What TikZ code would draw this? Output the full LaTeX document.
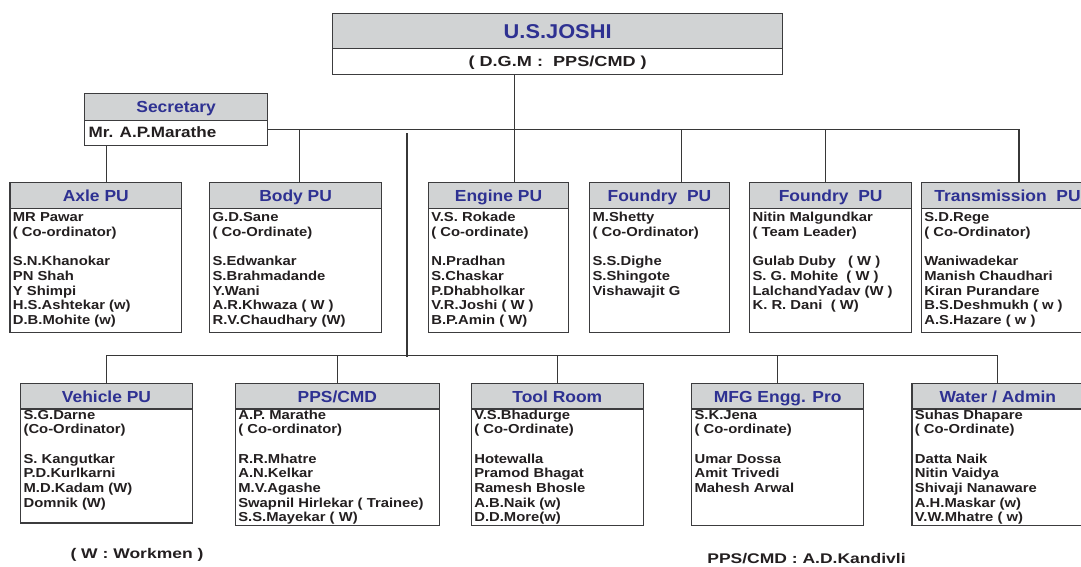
\documentclass[tikz,border=0pt]{standalone}
\usepackage{fontspec}
\setmainfont{Liberation Sans}
\newfontfamily\fA{Liberation Sans}[FakeStretch=1.09]
\newfontfamily\fB{Liberation Sans}[FakeStretch=1.14]
\newfontfamily\fC{Liberation Sans}[FakeStretch=1.25]
\definecolor{hdrgray}{RGB}{209,211,212}
\definecolor{hdrblue}{RGB}{46,49,146}
\definecolor{boxc}{RGB}{60,60,62}
\definecolor{linec}{RGB}{55,55,55}
\definecolor{txt}{RGB}{35,31,32}
\tikzset{
  hdr/.style={draw=boxc, line width=1.3pt, fill=hdrgray, text=hdrblue, inner sep=0pt,
    font=\fA\bfseries\fontsize{16}{19}\selectfont, text height=11.6pt, text depth=0pt},
  bdy/.style={draw=boxc, line width=1.3pt, fill=white, inner sep=0pt, text=txt},
  mem/.style={anchor=base west, inner sep=0pt, text=txt, font=\fB\bfseries\fontsize{13}{15}\selectfont},
  conn/.style={draw=linec, line width=1.2pt},
  note/.style={inner sep=0pt, text=txt, font=\fC\bfseries\fontsize{14}{17}\selectfont, text height=10pt, text depth=0pt}
}
% #1 name, #2 xL, #3 xR, #4 yTop, #5 yDiv, #6 yBot, #7 first baseline offset, #8 header, #9 lines
\newcommand\orgunit[9]{%
  \node[hdr, minimum width={(#3-#2)*1pt}, minimum height={(#5-#4)*1pt}, anchor=north west] (#1H) at (#2,#4) {#8};
  \node[bdy, minimum width={(#3-#2)*1pt}, minimum height={(#6-#5)*1pt}, anchor=north west] (#1B) at (#2,#5) {};
  \foreach \t [count=\i] in {#9} {
    \node[mem] (#1L\i) at ({#2+3.4},{#5+#7+(\i-1+(\i>2))*14.67}) {\t};
  }
}
\begin{document}
\begin{tikzpicture}[x=1pt,y=-1pt]
\useasboundingbox (0,0) rectangle (1081,566);
\begin{scope}
\clip (0,0) rectangle (1081,566);
\fill[white] (0,0) rectangle (1081,566);

% top
\node[hdr, font=\fA\bfseries\fontsize{20}{24}\selectfont, text height=14.3pt,
  minimum width=450pt, minimum height=35pt, anchor=north west] (joshiH) at (332,13) {U.S.JOSHI};
\node[bdy, font=\fC\bfseries\fontsize{14.5}{17}\selectfont, text height=10.4pt, text depth=0pt,
  minimum width=450pt, minimum height=26pt, anchor=north west] (joshiB) at (332,48) {( D.G.M :\ \ PPS/CMD )};

% secretary
\node[hdr, minimum width=183pt, minimum height=27pt, anchor=north west] (secH) at (84,93) {Secretary};
\node[bdy, minimum width=183pt, minimum height=25pt, anchor=north west] (secB) at (84,120) {};
\node[mem, font=\fB\bfseries\fontsize{15}{18}\selectfont] (secName) at (88.5,137.6) {Mr. A.P.Marathe};

% row 1
\orgunit{axle}{9.3}{181}{182}{207.5}{332}{14.2}{Axle PU}{{MR Pawar},{( Co-ordinator)},{S.N.Khanokar},{PN Shah},{Y Shimpi},{H.S.Ashtekar (w)},{D.B.Mohite (w)}}
\orgunit{body}{209}{381}{182}{207.5}{332}{14.2}{Body PU}{{G.D.Sane},{( Co-Ordinate)},{S.Edwankar},{S.Brahmadande},{Y.Wani},{A.R.Khwaza ( W )},{R.V.Chaudhary (W)}}
\orgunit{engine}{427.7}{568}{182}{207.5}{332}{14.2}{Engine PU}{{V.S. Rokade},{( Co-ordinate)},{N.Pradhan},{S.Chaskar},{P.Dhabholkar},{V.R.Joshi ( W )},{B.P.Amin ( W)}}
\orgunit{foundA}{589}{728.7}{182}{207.5}{332}{14.2}{Foundry\ \ PU}{{M.Shetty},{( Co-Ordinator)},{S.S.Dighe},{S.Shingote},{Vishawajit G}}
\orgunit{foundB}{749}{911}{182}{207.5}{332}{14.2}{Foundry\ \ PU}{{Nitin Malgundkar},{( Team Leader)},{Gulab Duby\ \ \ ( W )},{S. G. Mohite\ \ ( W )},{LalchandYadav (W )},{K. R. Dani\ \ ( W)}}
\orgunit{trans}{920.7}{1093}{182}{207.5}{332}{14.2}{Transmission\ \ PU}{{S.D.Rege},{( Co-Ordinator)},{Waniwadekar},{Manish Chaudhari},{Kiran Purandare},{B.S.Deshmukh ( w )},{A.S.Hazare ( w )}}

% row 2
\orgunit{vehicle}{20}{191.7}{383}{408.3}{522.3}{10.8}{Vehicle PU}{{S.G.Darne},{(Co-Ordinator)},{S. Kangutkar},{P.D.Kurlkarni},{M.D.Kadam (W)},{Domnik (W)}}
\orgunit{pps}{234.7}{438.7}{383}{408.3}{525}{10.8}{PPS/CMD}{{A.P. Marathe},{( Co-ordinator)},{R.R.Mhatre},{A.N.Kelkar},{M.V.Agashe},{Swapnil Hirlekar ( Trainee)},{S.S.Mayekar ( W)}}
\orgunit{tool}{470.7}{642.7}{383}{408.3}{525}{10.8}{Tool Room}{{V.S.Bhadurge},{( Co-Ordinate)},{Hotewalla},{Pramod Bhagat},{Ramesh Bhosle},{A.B.Naik (w)},{D.D.More(w)}}
\orgunit{mfg}{691}{863}{383}{408.3}{525}{10.8}{MFG Engg. Pro}{{S.K.Jena},{( Co-ordinate)},{Umar Dossa},{Amit Trivedi},{Mahesh Arwal}}
\orgunit{water}{911.3}{1083}{383}{408.3}{525}{10.8}{Water / Admin}{{Suhas Dhapare},{( Co-Ordinate)},{Datta Naik},{Nitin Vaidya},{Shivaji Nanaware},{A.H.Maskar (w)},{V.W.Mhatre ( w)}}

% notes
\node[note] (workmen) at (137,553) {( W : Workmen )};
\node[note] (kandivli) at (806.5,558.5) {PPS/CMD : A.D.Kandivli};

% connectors
\coordinate (busA) at ([yshift=4pt]secB.east);
\coordinate (transTop) at ([xshift=-0.1pt]1019,182);
\coordinate (engTop) at ([xshift=16.15pt]engineH.north);
\coordinate (axleTop) at ([xshift=10.85pt]axleH.north);
\coordinate (bodyTop) at ([xshift=4pt]bodyH.north);
\coordinate (foundATop) at ([xshift=21.85pt]foundAH.north);
\coordinate (foundBTop) at ([xshift=-5pt]foundBH.north);
\coordinate (vTop) at (407,133);

\draw[conn] (busA) -- (transTop |- busA) -- (transTop);
\draw[conn] (engTop) -- (engTop |- joshiB.south);
\draw[conn] (axleTop) -- (axleTop |- secB.south);
\draw[conn] (bodyTop) -- (bodyTop |- busA);
\draw[conn] (foundATop) -- (foundATop |- busA);
\draw[conn] (foundBTop) -- (foundBTop |- busA);

\draw[conn] (vehicleH.north) -- ++(0,-27.3) coordinate (lowL) -| (waterH.north);
\draw[conn] (vTop) -- ([yshift=-1pt]vTop |- lowL);
\draw[conn] (ppsH.north) -- (ppsH.north |- lowL);
\draw[conn] (toolH.north) -- (toolH.north |- lowL);
\draw[conn] (mfgH.north) -- (mfgH.north |- lowL);
\end{scope}
\end{tikzpicture}
\end{document}
